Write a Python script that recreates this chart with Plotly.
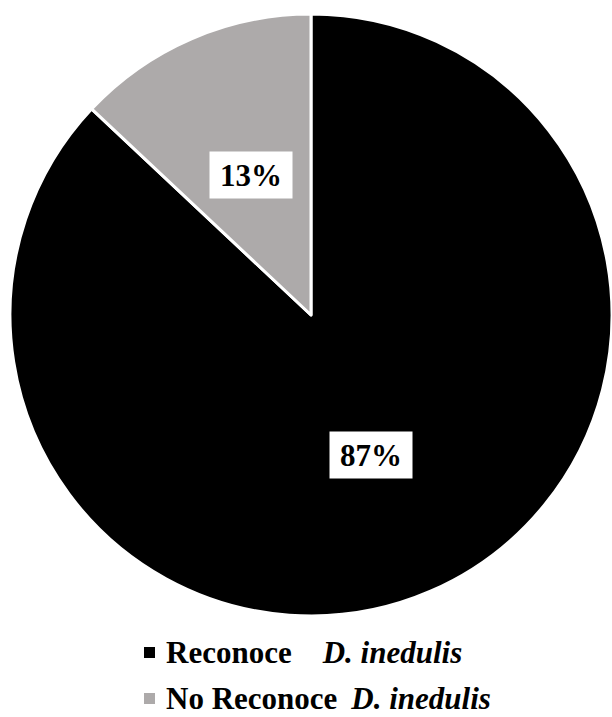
import math
import plotly.graph_objects as go

# Survey result: share of respondents who recognise D. inedulis
categories = ["Reconoce", "No Reconoce"]
species = "D. inedulis"
values = [87, 13]
colors = ["#000000", "#ADAAAA"]

W, H = 612, 717
FONT = "Liberation Serif, Times New Roman, serif"

# pie placement in pixels (centre and radius)
cx, cy, R = 311, 315, 301
dom_x = [(cx - R) / W, (cx + R) / W]
dom_y = [1 - (cy + R) / H, 1 - (cy - R) / H]

fig = go.Figure(
    go.Pie(
        labels=categories,
        values=values,
        sort=False,
        direction="clockwise",
        rotation=0,
        marker=dict(colors=colors, line=dict(color="white", width=3)),
        textinfo="none",
        hoverinfo="label+percent",
        showlegend=False,
        domain=dict(x=dom_x, y=dom_y),
    )
)

# percentage labels in white boxes at half radius on each slice's mid-angle
total = sum(values)
start = 0.0
annotations = []
for v in values:
    frac = v / total
    mid = (start + frac / 2) * 2 * math.pi
    start += frac
    px = cx + 0.505 * R * math.sin(mid)
    py = cy - 0.505 * R * math.cos(mid)
    annotations.append(
        dict(
            x=px / W, y=1 - py / H, xref="paper", yref="paper",
            text=f"<b>{frac * 100:.0f}%</b>", showarrow=False,
            font=dict(family=FONT, size=31, color="black"),
            bgcolor="white", width=80, height=44,
            xanchor="center", yanchor="middle",
        )
    )

# legend rows: swatch + category label + species name
gaps = ["\u00a0" * 4, "\u00a0\u2009"]
row_y = [652.5, 698.5]
shapes = []
for cat, col, gap, ry in zip(categories, colors, gaps, row_y):
    shapes.append(
        dict(type="rect", xref="paper", yref="paper",
             x0=144 / W, x1=155 / W, y0=1 - (ry + 5.5) / H, y1=1 - (ry - 5.5) / H,
             fillcolor=col, line=dict(width=0))
    )
    annotations.append(
        dict(
            x=164 / W, y=1 - ry / H, xref="paper", yref="paper",
            text=f"<b>{cat}</b>{gap}<b><i>{species}</i></b>", showarrow=False,
            font=dict(family=FONT, size=31, color="black"),
            xanchor="left", yanchor="middle",
        )
    )

fig.update_layout(
    width=W, height=H,
    margin=dict(l=0, r=0, t=0, b=0),
    paper_bgcolor="white",
    plot_bgcolor="white",
    annotations=annotations,
    shapes=shapes,
)

fig.write_html("out.html")
